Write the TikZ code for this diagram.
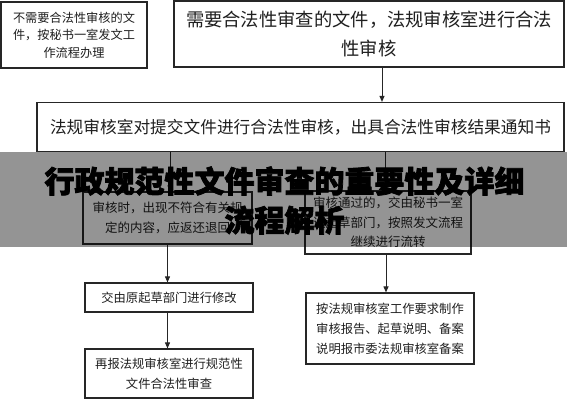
\documentclass[tikz,border=0pt]{standalone}
\usepackage{fontspec}
\setmainfont{Noto Sans CJK SC}
\newfontfamily\titlefont{Noto Sans CJK SC}[BoldFeatures={FakeBold=2.5}]
\usetikzlibrary{arrows.meta}
\begin{document}
\begin{tikzpicture}[x=1pt,y=-1pt,
  box/.style={draw=black!85, line width=1.2pt, inner sep=0pt, align=center, text=black!88, fill=white},
  arr/.style={draw=black!85, line width=1pt, -{Triangle[length=6pt,width=5pt]}}]
\useasboundingbox (0,0) rectangle (567,400);
\fill[white] (0,0) rectangle (567,400);
\node[box, line width=1.6pt, minimum width=146pt, minimum height=66pt, font=\fontsize{12.2}{17.5}\selectfont] (A) at (74,35)
  {不需要合法性审核的文\\件，按秘书一室发文工\\作流程办理};
\node[box, minimum width=390pt, minimum height=66pt, font=\fontsize{18.3}{29}\selectfont] (B) at (369,34)
  {需要合法性审查的文件，法规审核室进行合法\\性审核};
\node[box, minimum width=527pt, minimum height=49pt, font=\fontsize{16.7}{20}\selectfont] (C) at (300.5,127)
  {法规审核室对提交文件进行合法性审核，出具合法性审核结果通知书};
\node[box, minimum width=169pt, minimum height=52pt, font=\fontsize{12.5}{20}\selectfont] (D) at (167.5,218)
  {审核时，出现不符合有关规\\定的内容，应返还退回};
\node[box, minimum width=166pt, minimum height=63pt, font=\fontsize{12.5}{19.5}\selectfont] (E) at (388,222.5)
  {审核通过的，交由秘书一室\\送起草部门，按照发文流程\\继续进行流转};
\node[box, minimum width=168pt, minimum height=29pt, font=\fontsize{12.3}{18}\selectfont] (F) at (169,297.5)
  {交由原起草部门进行修改};
\node[box, minimum width=168pt, minimum height=49pt, font=\fontsize{12.3}{20}\selectfont] (G) at (169,373.5)
  {再报法规审核室进行规范性\\文件合法性审查};
\node[box, minimum width=168pt, minimum height=71pt, font=\fontsize{12.3}{20}\selectfont] (H) at (390,328.5)
  {按法规审核室工作要求制作\\审核报告、起草说明、备案\\说明报市委法规审核室备案};
\draw[arr] ([xshift=13pt]B.south) -- ([xshift=13pt]B.south |- C.north);
\draw[arr] ([xshift=2.5pt]D.north |- C.south) -- ([xshift=2.5pt]D.north);
\draw[arr] ([xshift=-3pt]E.north |- C.south) -- ([xshift=-3pt]E.north);
\draw[arr] (D.south) -- (D.south |- F.north);
\draw[arr] ([xshift=-1.5pt]F.south) -- ([xshift=-1.5pt]F.south |- G.north);
\draw[arr] ([xshift=-2pt]E.south) -- ([xshift=-2pt]E.south |- H.north);
\fill[black, opacity=0.42] (0,152) rectangle (567,247);
\node[inner sep=0pt, align=center, font=\titlefont\bfseries\fontsize{30}{39}\selectfont, text=black] (T) at (284.5,200.5)
  {行政规范性文件审查的重要性及详细\\流程解析};
\end{tikzpicture}
\end{document}
